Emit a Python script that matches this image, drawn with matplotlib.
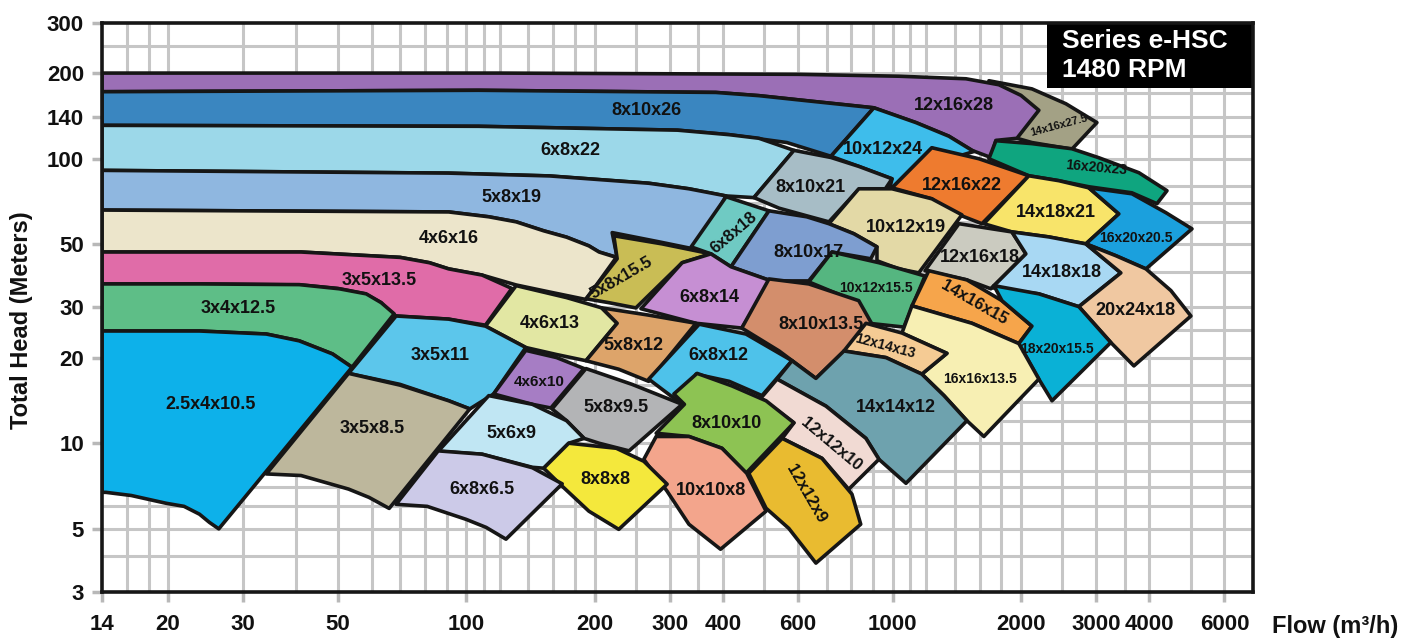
import matplotlib
matplotlib.use("Agg")
import matplotlib.pyplot as plt
from matplotlib.patches import Polygon, Rectangle
from matplotlib.ticker import FixedLocator, NullLocator

plt.rcParams['font.family'] = ['Liberation Sans', 'DejaVu Sans']

# ---- pump selection areas: outline points, flow (m3/h) and head (m) ----
f_14x16x27_5 = [1682, 2122, 2550, 3014, 2633, 2122, 1957, 1775]
h_14x16x27_5 = [188, 176, 156, 134, 108, 114, 118, 148]
f_12x16x28 = [14, 119.5, 602, 1034, 1486, 1775, 2000, 2203, 1957, 1747, 1700, 1535, 1355, 1134, 904, 602, 486, 385, 107, 14]
h_12x16x28 = [200, 200, 198, 195, 191, 182, 167, 148, 118, 116, 101, 107, 120, 134, 151, 161, 166.6, 171, 174, 172]
f_8x10x26 = [14, 107, 385, 486, 602, 904, 717, 565, 413.5, 313, 107, 14]
h_8x10x26 = [172, 174, 171, 166.6, 161, 151, 102, 114, 121.5, 126, 130, 131]
f_6x8x22 = [14, 107, 313, 413.5, 486, 587, 473, 406, 333, 268, 156, 91, 14]
h_6x8x22 = [131, 130, 126, 121.5, 118, 107, 73, 74, 78.4, 82, 87, 89, 91]
f_10x12x24 = [904, 1134, 1355, 1551, 1393, 1236, 981, 997, 833, 717]
h_10x12x24 = [151, 134, 120, 106, 101, 109, 77, 85, 94, 102]
f_8x10x21 = [587, 717, 833, 997, 954, 833, 709, 629, 542, 473]
h_8x10x21 = [107, 101, 94, 85, 77, 78, 60, 63, 67, 73]
f_5x8x19 = [14, 91, 157, 268, 333, 407, 346, 284, 220, 226, 205, 194, 172, 152, 131, 113, 91, 14]
h_5x8x19 = [91, 89, 87, 82, 78.4, 74, 48, 51, 55, 45, 47, 49.4, 53, 55.8, 60, 62.5, 65, 66]
f_4x6x16 = [14, 91, 113, 131, 152, 172, 194, 205, 225, 191, 157, 131, 109, 91, 82, 70, 41, 14]
h_4x6x16 = [66, 65, 62.5, 60, 55.8, 53, 49.4, 47, 45, 32, 34, 36, 39, 41, 43.1, 45, 47, 47]
f_3x5x13_5 = [14, 41, 70, 82, 91, 109, 128, 111, 91, 68.5, 66, 63.2, 58, 50, 41, 24, 14]
h_3x5x13_5 = [47, 47, 45, 43.1, 41, 39, 35, 26, 27.3, 28, 29, 31.2, 33.5, 35, 36, 36.3, 36.3]
f_3x4x12_5 = [14, 23.7, 40.6, 50.4, 58.3, 63.2, 67.8, 54, 48.6, 40.6, 34, 23.7, 14]
h_3x4x12_5 = [36.3, 36.3, 36.1, 34.9, 33.5, 31.2, 28.5, 18.5, 20.6, 22.9, 24.2, 24.8, 24.8]
f_2_5x4x10_5 = [14, 23.7, 34.0, 40.6, 48.6, 54.0, 26.3, 25.0, 23.7, 21.8, 19.8, 16.4, 14.3, 14]
h_2_5x4x10_5 = [24.8, 24.8, 24.2, 22.9, 20.6, 18.5, 5.0, 5.27, 5.63, 6.0, 6.15, 6.55, 6.72, 6.72]
f_16x20x23 = [1747, 2122, 2633, 3046, 3781, 4400, 4168, 3641, 2886, 2455, 2087, 1682]
h_16x20x23 = [115.7, 113.0, 108.4, 100.8, 89.3, 77.2, 69.5, 75.9, 79.7, 83.7, 87.1, 100]
f_12x16x22 = [1236, 1593, 2087, 1620, 1355, 1236, 997]
h_12x16x22 = [109.3, 100, 87.1, 59.1, 65.6, 72.3, 79.0]
f_10x12x19 = [833, 997, 1236, 1454, 1152, 1034, 919, 919, 811, 709]
h_10x12x19 = [78.4, 78.4, 72.3, 63.5, 39.7, 41.0, 43.8, 49.0, 54.5, 59.1]
f_14x18x21 = [2087, 2455, 2886, 3393, 2840, 2326, 1905, 1637]
h_14x18x21 = [87.1, 83.7, 79.0, 64.0, 50.2, 53.1, 55.3, 59.1]
f_16x20x20_5 = [2886, 3641, 4376, 5036, 3928, 3340, 2840, 3393]
h_16x20x20_5 = [79.0, 75.3, 64.6, 56.7, 41.0, 45.6, 50.2, 64.0]
f_12x16x18 = [1431, 1710, 1905, 2054, 1700, 1494, 1191]
h_12x16x18 = [59.1, 56.7, 55.3, 46.3, 34.9, 37.5, 40.4]
f_14x18x18 = [1905, 2326, 2840, 3430, 2734, 2203, 1710, 2054]
h_14x18x18 = [55.3, 53.1, 50.2, 39.7, 30.2, 33.5, 35.2, 46.3]
f_20x24x18 = [2840, 3340, 3928, 4494, 5007, 3680, 3249, 2734, 3430]
h_20x24x18 = [50.2, 45.6, 41.0, 34.4, 28.0, 18.7, 22.6, 30.2, 39.7]
f_6x8x18 = [407, 513, 418, 375, 337]
h_6x8x18 = [73.5, 65.6, 41.7, 46.3, 49.0]
f_8x10x17 = [513, 629, 709, 811, 919, 889, 721, 636, 519, 418]
h_8x10x17 = [65.6, 62.5, 59.1, 54.5, 49.0, 44.5, 47.0, 37.2, 37.2, 41.7]
f_5x8x15_5 = [222, 288, 375, 321, 250, 216, 191, 226]
h_5x8x15_5 = [53.6, 50.2, 46.3, 43.1, 29.9, 31.2, 32.2, 44.5]
f_10x12x15_5 = [721, 929, 1191, 1063, 880, 833, 636]
h_10x12x15_5 = [47.0, 43.1, 38.7, 25.6, 26.4, 31.2, 36.9]
f_14x16x15 = [1216, 1494, 1805, 2122, 1977, 1535, 1110]
h_14x16x15 = [40.4, 37.5, 31.7, 25.8, 22.4, 26.4, 30.4]
f_18x20x15_5 = [1728, 2203, 2734, 3249, 2365, 2203, 1977, 2122, 1805]
h_18x20x15_5 = [35.8, 33.5, 30.2, 22.6, 14.1, 16.8, 22.4, 25.8, 31.7]
f_16x16x13_5 = [1110, 1535, 1977, 2203, 1637, 1494, 1320, 1171, 1341, 1052]
h_16x16x13_5 = [30.4, 26.4, 22.4, 16.8, 10.56, 12.0, 14.7, 17.5, 20.7, 24.4]
f_6x8x14 = [321, 375, 418, 519, 443, 346, 257]
h_6x8x14 = [43.1, 46.3, 41.7, 37.2, 25.4, 26.4, 29.7]
f_8x10x13_5 = [513, 636, 833, 895, 661, 542, 443]
h_8x10x13_5 = [37.8, 36.3, 31.7, 26.2, 16.9, 21.1, 25.4]
f_12x14x13 = [866, 1052, 1341, 1171, 965, 769]
h_12x14x13 = [26.4, 24.4, 20.7, 17.5, 20.0, 21.1]
f_4x6x13 = [131, 172, 208, 226, 191, 163, 138, 111]
h_4x6x13 = [35.8, 32.5, 29.9, 26.4, 19.5, 20.5, 21.7, 25.8]
f_5x8x12 = [208, 268, 346, 268, 228, 191, 226]
h_5x8x12 = [29.9, 28.2, 26.4, 16.5, 18.2, 19.5, 26.4]
f_6x8x12 = [352, 453, 581, 494, 414, 346, 321, 291, 268]
h_6x8x12 = [26.2, 24.2, 19.5, 14.7, 16.5, 17.5, 13.7, 15.3, 16.8]
f_14x14x12 = [581, 661, 769, 965, 1171, 1320, 1494, 1075, 929, 866, 698, 536]
h_14x14x12 = [19.5, 16.9, 21.1, 20.0, 17.5, 14.7, 12.0, 7.23, 8.78, 10.4, 13.5, 16.8]
f_3x5x11 = [68.5, 91, 111, 138, 116, 102, 91, 70, 53]
h_3x5x11 = [28, 27.3, 25.8, 21.7, 14.9, 13.2, 14.1, 16.1, 17.6]
f_4x6x10 = [138, 163, 189, 158, 143, 116]
h_4x6x10 = [21.2, 20.0, 18.3, 13.3, 13.7, 14.9]
f_5x8x9_5 = [191, 245, 321, 241, 205, 189, 172, 159]
h_5x8x9_5 = [18.3, 16.1, 13.7, 9.4, 10.0, 10.4, 12.0, 13.2]
f_12x12x10 = [536, 698, 866, 929, 789, 683, 551, 587, 491]
h_12x12x10 = [16.8, 13.5, 10.4, 8.78, 6.89, 8.85, 10.4, 11.8, 14.4]
f_8x10x10 = [348, 420, 505, 587, 453, 398, 333, 279, 325, 307]
h_8x10x10 = [17.6, 15.9, 14.1, 11.8, 7.84, 9.6, 10.56, 10.84, 13.7, 14.9]
f_3x5x8_5 = [53, 70, 91, 102, 66, 59.2, 53, 41, 34]
h_3x5x8_5 = [17.6, 16.0, 14.1, 13.2, 5.9, 6.45, 6.9, 7.7, 7.8]
f_5x6x9 = [113, 143, 172, 189, 174, 152, 143, 109, 86]
h_5x6x9 = [14.7, 13.7, 12.0, 10.4, 10.0, 8.17, 8.23, 9.15, 9.37]
f_12x12x9 = [551, 683, 803, 842, 661, 571, 505, 460]
h_12x12x9 = [10.4, 8.85, 6.62, 5.19, 3.79, 5.02, 5.91, 7.84]
f_10x10x8 = [261, 279, 333, 398, 455, 505, 395, 333, 296]
h_10x10x8 = [8.78, 10.56, 10.56, 9.6, 7.84, 5.77, 4.24, 5.19, 6.78]
f_8x8x8 = [174, 225, 261, 296, 228, 194, 168, 152]
h_8x8x8 = [10.0, 9.6, 8.64, 7.18, 4.98, 5.77, 7.06, 8.17]
f_6x8x6_5 = [86, 109, 143, 168, 124, 111.4, 100, 81, 68.5]
h_6x8x6_5 = [9.4, 9.15, 8.2, 7.2, 4.6, 5.06, 5.4, 6.0, 6.1]

# back to front
areas = [
    ("14x16x27.5", f_14x16x27_5, h_14x16x27_5, "#a3a185"),
    ("12x16x28", f_12x16x28, h_12x16x28, "#9b6fb6"),
    ("8x10x26", f_8x10x26, h_8x10x26, "#3a86c0"),
    ("6x8x22", f_6x8x22, h_6x8x22, "#9cd8e9"),
    ("10x12x24", f_10x12x24, h_10x12x24, "#3ebdeb"),
    ("8x10x21", f_8x10x21, h_8x10x21, "#a7bdc6"),
    ("5x8x19", f_5x8x19, h_5x8x19, "#8fb7e0"),
    ("4x6x16", f_4x6x16, h_4x6x16, "#ece5cb"),
    ("3x5x13.5", f_3x5x13_5, h_3x5x13_5, "#e06ca8"),
    ("3x4x12.5", f_3x4x12_5, h_3x4x12_5, "#5ebe87"),
    ("2.5x4x10.5", f_2_5x4x10_5, h_2_5x4x10_5, "#0db1ea"),
    ("16x20x23", f_16x20x23, h_16x20x23, "#0fa57f"),
    ("12x16x22", f_12x16x22, h_12x16x22, "#ee7b2f"),
    ("10x12x19", f_10x12x19, h_10x12x19, "#e3d9a6"),
    ("14x18x21", f_14x18x21, h_14x18x21, "#f8e46a"),
    ("16x20x20.5", f_16x20x20_5, h_16x20x20_5, "#1ba0dd"),
    ("12x16x18", f_12x16x18, h_12x16x18, "#cbcbc0"),
    ("14x18x18", f_14x18x18, h_14x18x18, "#a8d8f3"),
    ("20x24x18", f_20x24x18, h_20x24x18, "#f0c8a1"),
    ("6x8x18", f_6x8x18, h_6x8x18, "#6fcac3"),
    ("8x10x17", f_8x10x17, h_8x10x17, "#7e9ed0"),
    ("5x8x15.5", f_5x8x15_5, h_5x8x15_5, "#c9bd55"),
    ("10x12x15.5", f_10x12x15_5, h_10x12x15_5, "#55b680"),
    ("14x16x15", f_14x16x15, h_14x16x15, "#f6a54b"),
    ("18x20x15.5", f_18x20x15_5, h_18x20x15_5, "#0ab1d6"),
    ("16x16x13.5", f_16x16x13_5, h_16x16x13_5, "#f7efb3"),
    ("6x8x14", f_6x8x14, h_6x8x14, "#c68fd3"),
    ("8x10x13.5", f_8x10x13_5, h_8x10x13_5, "#d38e6c"),
    ("12x14x13", f_12x14x13, h_12x14x13, "#f5cb94"),
    ("4x6x13", f_4x6x13, h_4x6x13, "#e2e7a3"),
    ("5x8x12", f_5x8x12, h_5x8x12, "#dda46a"),
    ("6x8x12", f_6x8x12, h_6x8x12, "#4ec2ea"),
    ("14x14x12", f_14x14x12, h_14x14x12, "#6ea2ae"),
    ("3x5x11", f_3x5x11, h_3x5x11, "#5cc6eb"),
    ("4x6x10", f_4x6x10, h_4x6x10, "#a67dc4"),
    ("5x8x9.5", f_5x8x9_5, h_5x8x9_5, "#b3b4b6"),
    ("12x12x10", f_12x12x10, h_12x12x10, "#f1dad3"),
    ("8x10x10", f_8x10x10, h_8x10x10, "#8dc353"),
    ("3x5x8.5", f_3x5x8_5, h_3x5x8_5, "#bdb79c"),
    ("5x6x9", f_5x6x9, h_5x6x9, "#c0e6f3"),
    ("12x12x9", f_12x12x9, h_12x12x9, "#e9bb30"),
    ("10x10x8", f_10x10x8, h_10x10x8, "#f3a58c"),
    ("8x8x8", f_8x8x8, h_8x8x8, "#f4e83c"),
    ("6x8x6.5", f_6x8x6_5, h_6x8x6_5, "#cccae8"),
]

# label anchors (flow, head), text angle, size
lab_names = ["12x16x28", "14x16x27.5", "8x10x26", "10x12x24", "6x8x22", "16x20x23",
             "12x16x22", "8x10x21", "5x8x19", "14x18x21", "16x20x20.5", "10x12x19",
             "6x8x18", "4x6x16", "8x10x17", "12x16x18", "14x18x18", "5x8x15.5",
             "10x12x15.5", "3x5x13.5", "6x8x14", "14x16x15", "20x24x18", "8x10x13.5",
             "12x14x13", "3x4x12.5", "4x6x13", "16x16x13.5", "18x20x15.5", "5x8x12",
             "6x8x12", "3x5x11", "14x14x12", "4x6x10", "5x8x9.5", "12x12x10",
             "2.5x4x10.5", "8x10x10", "3x5x8.5", "5x6x9", "10x10x8", "8x8x8",
             "12x12x9", "6x8x6.5"]
lab_flow = [1393, 2455, 265, 949, 176, 2998, 1454, 643, 128, 2416, 3721, 1075,
            424, 90.8, 636, 1600, 2495, 231, 914, 62.5, 371, 1551, 3721, 679,
            960, 29.2, 157, 1600, 2429, 247, 391, 86.9, 1018, 148, 225, 717,
            25.1, 407, 60.2, 128, 375, 212, 626, 109]
lab_head = [154, 131, 148, 108, 107, 93, 80.4, 79, 73, 64.6, 52.7, 57.2,
            54.9, 52.3, 46.7, 44.9, 39.7, 38.1, 35.2, 37.2, 32.5, 31.2, 29.2, 26.2,
            21.9, 29.7, 26.4, 16.8, 21.4, 22.1, 20.3, 20.3, 13.3, 16.4, 13.3, 9.9,
            13.7, 11.7, 11.3, 10.84, 6.83, 7.47, 6.62, 6.89]
lab_rot = [0, 15, 0, 0, 0, -5, 0, 0, 0, 0, 0, 0,
           40, 0, 0, 0, 0, 30, 0, 0, 0, -30, 0, 0,
           -15, 0, 0, 0, 0, 0, 0, 0, 0, 0, 0, -40,
           0, 0, 0, 0, 0, 0, -60, 0]
lab_size = [13, 8, 13, 13, 13, 10, 13, 13, 13, 13, 10, 13,
            12, 13, 13, 13, 13, 12, 10, 13, 13, 12, 13, 13,
            10, 13, 13, 10, 10, 13, 13, 13, 13, 11, 13, 12,
            13, 13, 13, 13, 13, 13, 12, 13]

grid_flow = [16, 18, 20, 30, 40, 50, 60, 70, 80, 90, 100, 110, 120, 140, 160, 180,
             200, 250, 300, 350, 400, 500, 600, 700, 800, 900, 1000, 1100, 1200,
             1400, 1600, 1800, 2000, 2500, 3000, 3500, 4000, 5000, 6000]
grid_head = [4, 5, 6, 7, 8, 10, 12, 14, 16, 20, 25, 30, 40, 50, 60, 70, 80,
             100, 120, 140, 170, 200, 250]
flow_ticks = [14, 20, 30, 50, 100, 200, 300, 400, 600, 1000, 2000, 3000, 4000, 6000]
head_ticks = [3, 5, 10, 20, 30, 50, 100, 140, 200, 300]

fig = plt.figure(figsize=(14.11, 6.42), dpi=100)
ax = fig.add_axes([0.0723, 0.0779, 0.8157, 0.8863])
ax.set_xscale('log')
ax.set_yscale('log')
ax.set_xlim(14, 7000)
ax.set_ylim(3, 300)

for g in grid_flow:
    ax.axvline(g, color='#c6c6c6', lw=2.2, zorder=0)
for g in grid_head:
    ax.axhline(g, color='#c6c6c6', lw=2.2, zorder=0)

for name, fl, hd, col in areas:
    ax.add_patch(Polygon(list(zip(fl, hd)), closed=True, facecolor=col,
                         edgecolor='#161616', lw=2.6, joinstyle='round', zorder=2))

for i, name in enumerate(lab_names):
    ax.text(lab_flow[i], lab_head[i], name, ha='center', va='center',
            rotation=lab_rot[i], fontsize=lab_size[i], fontweight='bold',
            color='#111111', zorder=3)

ax.xaxis.set_major_locator(FixedLocator(flow_ticks))
ax.xaxis.set_minor_locator(NullLocator())
ax.set_xticklabels([str(t) for t in flow_ticks], fontweight='bold')
ax.yaxis.set_major_locator(FixedLocator(head_ticks))
ax.yaxis.set_minor_locator(NullLocator())
ax.set_yticklabels([str(t) for t in head_ticks], fontweight='bold')
ax.tick_params(axis='both', length=7, width=2.5, color='#b8b8b8', labelsize=16,
               labelcolor='#111111')
ax.tick_params(axis='x', pad=9)
ax.tick_params(axis='y', pad=6)

for sp in ax.spines.values():
    sp.set_linewidth(2.6)
    sp.set_color('#161616')
    sp.set_zorder(6)

# title box
ax.add_patch(Rectangle((0.821, 0.886), 0.179, 0.114, transform=ax.transAxes,
                       facecolor='black', edgecolor='none', zorder=5))
ax.text(0.834, 0.968, "Series e-HSC", transform=ax.transAxes, ha='left', va='center',
        color='white', fontsize=19, fontweight='bold', zorder=6)
ax.text(0.834, 0.917, "1480 RPM", transform=ax.transAxes, ha='left', va='center',
        color='white', fontsize=19, fontweight='bold', zorder=6)

fig.text(22 / 1411, 1 - 320 / 642, "Total Head (Meters)", rotation=90,
         ha='center', va='center', fontsize=17, fontweight='bold', color='#111111')
fig.text(1272 / 1411, 1 - 627 / 642, "Flow (m³/h)", ha='left', va='center',
         fontsize=17, fontweight='bold', color='#111111')

fig.savefig("out.png", dpi=100)
